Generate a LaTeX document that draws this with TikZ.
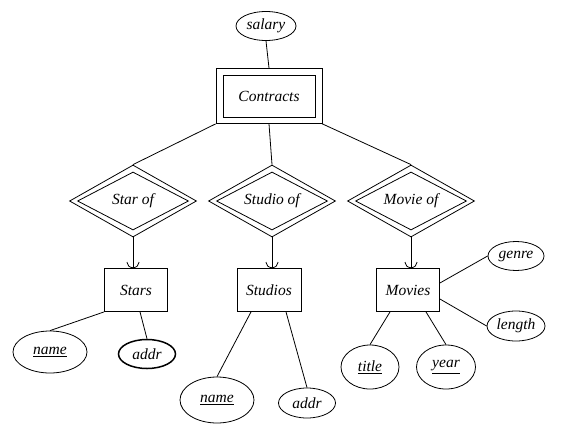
\documentclass[tikz,border=0pt]{standalone}
\usepackage{fontspec}
\newfontfamily\timesf{Liberation Serif}
\usetikzlibrary{shapes.geometric,arrows.meta}
\tikzset{
  every node/.style={font=\timesf\fontsize{15.5}{18}\selectfont\itshape, inner sep=0pt},
  attr/.style={draw, ellipse, line width=0.8pt},
  ent/.style={draw, rectangle, line width=0.8pt},
  rel/.style={draw, diamond, aspect=2, line width=0.8pt},
  ln/.style={line width=0.8pt},
  arr/.style={line width=0.8pt, -{Arc Barb[length=6pt, width=13pt]}},
}
\begin{document}
\begin{tikzpicture}[x=1pt,y=-1pt]
\useasboundingbox (0,0) rectangle (580,431);
% nodes
\node[attr, minimum width=60, minimum height=29] (salary) at (266,26) {salary};
\node[ent, minimum width=106, minimum height=55] (contracts) at (269,96) {};
\node[ent, minimum width=92, minimum height=42] (contractsin) at (269,96) {Contracts};
\node[rel, minimum width=127, minimum height=72] (starof) at (133,201) {};
\node[rel, minimum width=111, minimum height=58] (starofin) at (133,201) {Star of};
\node[rel, minimum width=127, minimum height=72] (studioof) at (272,201) {};
\node[rel, minimum width=111, minimum height=58] (studioofin) at (272,201) {Studio of};
\node[rel, minimum width=127, minimum height=72] (movieof) at (411,201) {};
\node[rel, minimum width=111, minimum height=58] (movieofin) at (411,201) {Movie of};
\node[ent, minimum width=63, minimum height=43] (stars) at (136,290) {Stars};
\node[ent, minimum width=64, minimum height=43] (studios) at (269,290) {Studios};
\node[ent, minimum width=63, minimum height=43] (movies) at (408,290) {Movies};
\node[attr, minimum width=74, minimum height=42] (sname) at (50,352) {\underline{name}};
\node[attr, minimum width=57, minimum height=29, line width=1.5pt] (saddr) at (147,354) {addr};
\node[attr, minimum width=74, minimum height=46] (stname) at (217,400) {\underline{name}};
\node[attr, minimum width=57, minimum height=30] (staddr) at (307,403) {addr};
\node[attr, minimum width=58, minimum height=44] (title) at (370,367) {\underline{title}};
\node[attr, minimum width=59, minimum height=44] (year) at (446,367) {\underline{year}};
\node[attr, minimum width=56, minimum height=29] (genre) at (516,256) {genre};
\node[attr, minimum width=58, minimum height=30] (length) at (516,326) {length};
% connectors
\draw[ln] (salary.south) -- (contracts.north);
\draw[ln] (contracts.south west) -- (starof.north);
\draw[ln] (contracts.south) -- (studioof.north);
\draw[ln] (contracts.south east) -- (movieof.north);
\draw[arr] (starof.south) -- (starof.south |- stars.north);
\draw[arr] (studioof.south) -- (studioof.south |- studios.north);
\draw[arr] (movieof.south) -- (movieof.south |- movies.north);
\draw[ln] (stars.south west) -- (sname.north);
\draw[ln] ([xshift=4pt]stars.south) -- (saddr.north);
\draw[ln] ([xshift=-18pt]studios.south) -- (stname.north);
\draw[ln] ([xshift=17pt]studios.south) -- (staddr.north);
\draw[ln] ([xshift=-18pt]movies.south) -- (title.north);
\draw[ln] ([xshift=18pt]movies.south) -- (year.north);
\draw[ln] ([yshift=7pt]movies.east) -- (genre.west);
\draw[ln] ([yshift=-9pt]movies.east) -- (length.west);
\end{tikzpicture}
\end{document}
